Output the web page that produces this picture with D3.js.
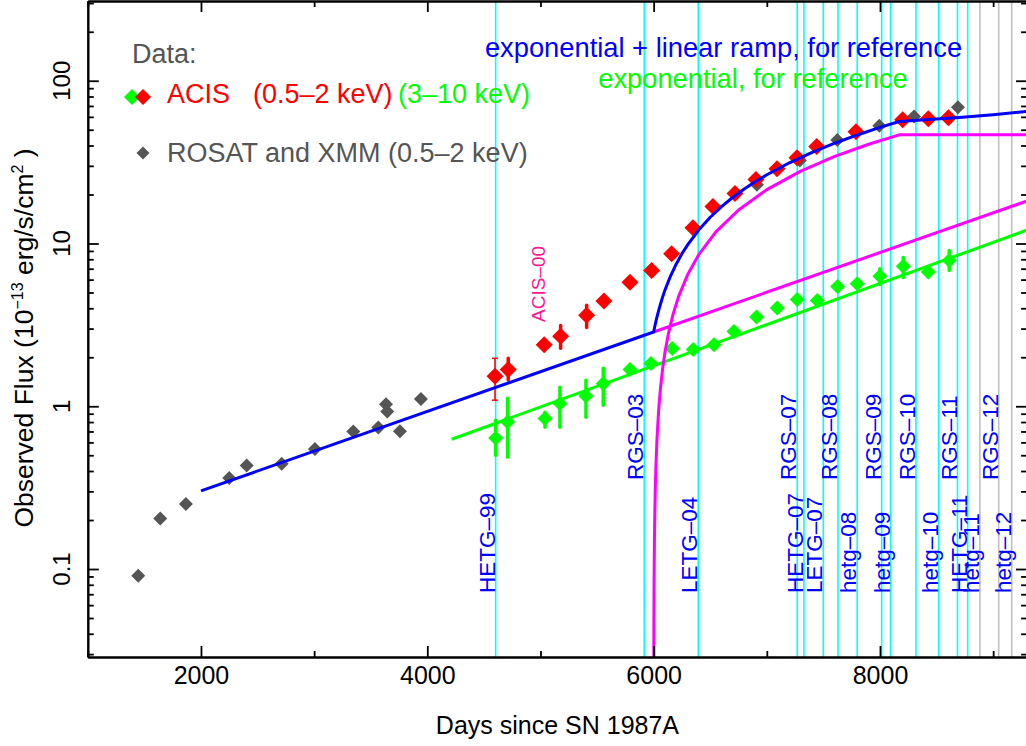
<!DOCTYPE html>
<html><head><meta charset="utf-8">
<script src="https://cdn.jsdelivr.net/npm/d3@7"></script>
<style>
body{margin:0;background:#fff}
svg{display:block}
text{font-family:"Liberation Sans",Arial,Helvetica,sans-serif}
</style>
</head><body>
<svg id="chart" width="1026" height="746"></svg>
<script>
// ---------------- data ----------------
const xTickLabels = [2000, 4000, 6000, 8000];
const xMinorTicks = [1000, 3000, 5000, 7000, 9000];
const yTickLabels = [0.1, 1, 10, 100];

// ROSAT and XMM (0.5-2 keV): [day, flux]
const rosatXmm = [[1446,0.091],[1640,0.204],[1867,0.251],[2250,0.363],[2404,0.433],[2713,0.443],
  [3007,0.547],[3346,0.700],[3567,0.740],[3635,1.03],[3646,0.927],[3758,0.703],[3944,1.11],
  [6913,23.0],[7292,32.3],[7623,43.3],[7994,52.9],[8301,60.2],[8689,68.8]];

// ACIS 0.5-2 keV: [day, flux, errLow, errHigh]
const acisSoft = [[4598,1.53,1.09,1.97],[4715,1.68,1.45,1.97],[5033,2.39],[5178,2.69,2.27,3.14],
  [5408,3.62,3.05,4.17],[5561,4.43],[5791,5.79],[5982,6.83],[6159,8.65],[6347,12.5],[6524,16.9],
  [6719,20.3],[6904,24.7],[7090,28.8],[7267,33.7],[7441,39.4],[7788,48.6],[8200,57.6],[8427,58.5],[8605,59.3]];

// ACIS 3-10 keV: [day, flux, errLow, errHigh]
const acisHard = [[4604,0.639,0.50,0.82],[4710,0.801,0.486,1.12],[5040,0.840,0.743,0.918],
  [5172,1.039,0.743,1.31],[5402,1.157,0.857,1.445],[5555,1.378,1.014,1.71],[5791,1.68],[5976,1.83],
  [6165,2.26],[6350,2.23],[6533,2.39],[6710,2.88],[6910,3.53],[7092,4.01],[7269,4.53],[7446,4.47],
  [7626,5.45],[7799,5.66],[7999,6.30,5.6,7.0],[8206,7.26,6.19,8.2],[8427,6.67,6.2,7.2],[8612,7.87,6.83,9.06]];

// reference curves: [day, flux]
const blueModel = [[2000,0.302],[6000,2.86],[6010,3.09],[6025,3.44],[6050,4.01],[6075,4.59],[6100,5.17],
  [6150,6.33],[6200,7.49],[6250,8.65],[6300,9.81],[6400,12.15],[6500,14.5],[6600,16.87],[6700,19.24],
  [6800,21.63],[6900,24.03],[7000,26.45],[7200,31.33],[7400,36.29],[7600,41.32],[7800,46.44],
  [8000,51.66],[8170,56.2],[8400,57.5],[8700,59.5],[9000,61.9],[9300,64.8]];
const magentaExp = [[6000,2.86],[9300,18.27]];
const magentaRamp = [[6000.3,0.0064],[6001,0.0214],[6002,0.0429],[6004,0.0857],[6007,0.15],[6010,0.214],
  [6015,0.321],[6020,0.429],[6030,0.643],[6045,0.964],[6060,1.286],[6080,1.714],[6100,2.143],[6130,2.786],
  [6170,3.643],[6220,4.715],[6300,6.429],[6400,8.572],[6550,11.79],[6750,16.07],[7000,21.43],[7300,27.86],
  [7600,34.29],[7900,40.72],[8170,46.5],[9300,46.5]];
const greenModel = [[4215,0.627],[9300,12.1]];

// grating observations
const obsDays   = [4604, 5917, 6394, 7269, 7328, 7499, 7629, 7799, 8015, 8094, 8318, 8519, 8685, 8775, 8883, 9049, 9164];
const obsLabels = ["HETG–99","RGS–03","LETG–04","RGS–07","HETG–07","LETG–07","RGS–08","hetg–08","RGS–09",
                   "hetg–09","RGS–10","hetg–10","RGS–11","HETG–11","hetg–11","RGS–12","hetg–12"];
const obsUpperRow = [false,true,false,true,false,false,true,false,true,false,true,false,true,false,false,true,false];
const obsPlanned  = [false,false,false,false,false,false,false,false,false,false,false,false,false,false,true,true,true];

// ---------------- chart ----------------
const svg = d3.select("#chart");
const L = 87.8, R = 1027.1, T = 1, B = 657;
const x = d3.scaleLinear().domain([1000, 9300]).range([L, R]);
const y = d3.scaleLog().domain([0.0288, 309]).range([B, T]);

svg.append("defs").append("clipPath").attr("id","clip")
  .append("rect").attr("x",L).attr("y",T).attr("width",R-L).attr("height",B-T);

const plot = svg.append("g").attr("clip-path","url(#clip)");

// legend / annotation text
const leg = svg.append("g");
leg.append("text").attr("x",132).attr("y",63).attr("font-size",27).attr("fill","#555").text("Data:");
leg.append("text").attr("x",167).attr("y",103).attr("font-size",27).attr("fill","#ff0000").text("ACIS");
leg.append("text").attr("x",253).attr("y",103).attr("font-size",27).attr("fill","#ff0000").text("(0.5–2 keV)");
leg.append("text").attr("x",398).attr("y",103).attr("font-size",27).attr("fill","#00ff00").text("(3–10 keV)");
leg.append("text").attr("x",167).attr("y",162).attr("font-size",27).attr("fill","#555").text("ROSAT and XMM (0.5–2 keV)");
leg.append("text").attr("x",723.5).attr("y",57).attr("text-anchor","middle").attr("font-size",27.3).attr("fill","#0000ff").text("exponential + linear ramp, for reference");
leg.append("text").attr("x",753).attr("y",88).attr("text-anchor","middle").attr("font-size",27.3).attr("fill","#00ff00").text("exponential, for reference");

const diamond = h => `M0,${-h}L${h},0L0,${h}L${-h},0Z`;
leg.append("path").attr("d",diamond(8)).attr("transform","translate(132,97)").attr("fill","#00ff00");
leg.append("path").attr("d",diamond(8)).attr("transform","translate(143,97)").attr("fill","#ff0000");
leg.append("path").attr("d",diamond(6.5)).attr("transform","translate(143,153)").attr("fill","#555");

// vertical observation lines
plot.selectAll("line.obs").data(obsDays).enter().append("line")
  .attr("x1",d=>x(d)).attr("x2",d=>x(d)).attr("y1",T).attr("y2",B)
  .attr("stroke",(d,i)=>obsPlanned[i]?"#c0c0c0":"#00ffff").attr("stroke-width",1.6);

// error bars
function errBars(data, color, thinFirst){
  const withErr = data.filter(d=>d.length>2);
  plot.selectAll(null).data(withErr).enter().append("line")
    .attr("x1",d=>x(d[0])).attr("x2",d=>x(d[0]))
    .attr("y1",d=>y(d[2])).attr("y2",d=>y(d[3]))
    .attr("stroke",color).attr("stroke-linecap",(d,i)=>thinFirst&&i===0?"butt":"round")
    .attr("stroke-width",(d,i)=>thinFirst&&i===0?1.5:3.5);
  if(thinFirst){
    const d0 = withErr[0];
    [d0[2],d0[3]].forEach(v=>{
      plot.append("line").attr("x1",x(d0[0])-3).attr("x2",x(d0[0])+3)
        .attr("y1",y(v)).attr("y2",y(v)).attr("stroke",color).attr("stroke-width",1.5);
    });
  }
}
errBars(acisSoft,"#ff0000",true);
errBars(acisHard,"#00ff00",false);

function points(data,color,h){
  plot.selectAll(null).data(data).enter().append("path")
    .attr("d",diamond(h))
    .attr("transform",d=>`translate(${x(d[0])},${y(d[1])})`)
    .attr("fill",color);
}
points(rosatXmm,"#555",7);
points(acisHard,"#00ff00",7.5);
points(acisSoft,"#ff0000",8.5);

// model curves
const line = d3.line().x(d=>x(d[0])).y(d=>y(d[1]));
function curve(data,color){
  plot.append("path").datum(data).attr("d",line).attr("fill","none")
    .attr("stroke",color).attr("stroke-width",3).attr("stroke-linejoin","round");
}
curve(greenModel,"#00ff00");
curve(magentaExp,"#ff00ff");
curve(magentaRamp,"#ff00ff");
curve(blueModel,"#0000ff");

// observation labels
svg.selectAll("text.obs").data(obsDays).enter().append("text")
  .attr("transform",(d,i)=>`translate(${x(d)-1},${obsUpperRow[i]?480:593}) rotate(-90)`)
  .attr("font-size",22.5).attr("fill","#0000ff").text((d,i)=>obsLabels[i]);

svg.append("text").attr("transform","translate(545,322) rotate(-90)")
  .attr("font-size",19).attr("fill","#ff1493").text("ACIS–00");

// axes
const minorY = y.ticks().filter(v=>!yTickLabels.includes(v) && Math.abs(Math.log10(v)%1)>1e-6);
function styleAxis(g){
  g.select(".domain").attr("stroke","#000").attr("stroke-width",2);
  g.selectAll(".tick line").attr("stroke","#000").attr("stroke-width",1.8);
}
// bottom
svg.append("g").attr("transform",`translate(0,${B})`)
  .call(d3.axisBottom(x).tickValues(xTickLabels).tickSizeInner(-11).tickSizeOuter(0).tickPadding(9).tickFormat(d3.format("d")))
  .call(styleAxis)
  .call(g=>g.selectAll("text").attr("font-size",25).attr("fill","#000").attr("font-family","Liberation Sans, Arial, sans-serif"));
svg.append("g").attr("transform",`translate(0,${B})`)
  .call(d3.axisBottom(x).tickValues(xMinorTicks).tickSizeInner(-6).tickSizeOuter(0).tickFormat(""))
  .call(styleAxis);
// top
svg.append("g").attr("transform",`translate(0,${T})`)
  .call(d3.axisTop(x).tickValues(xTickLabels).tickSizeInner(-11).tickSizeOuter(0).tickFormat(""))
  .call(styleAxis);
svg.append("g").attr("transform",`translate(0,${T})`)
  .call(d3.axisTop(x).tickValues(xMinorTicks).tickSizeInner(-6).tickSizeOuter(0).tickFormat(""))
  .call(styleAxis);
// left
svg.append("g").attr("transform",`translate(${L},0)`)
  .call(d3.axisLeft(y).tickValues(yTickLabels).tickSizeInner(-11).tickSizeOuter(0).tickFormat(""))
  .call(styleAxis);
svg.append("g").attr("transform",`translate(${L},0)`)
  .call(d3.axisLeft(y).tickValues(minorY).tickSizeInner(-6).tickSizeOuter(0).tickFormat(""))
  .call(styleAxis);
// right
svg.append("g").attr("transform",`translate(${R},0)`)
  .call(d3.axisRight(y).tickValues(yTickLabels).tickSizeInner(-11).tickSizeOuter(0).tickFormat(""))
  .call(styleAxis);
svg.append("g").attr("transform",`translate(${R},0)`)
  .call(d3.axisRight(y).tickValues(minorY).tickSizeInner(-6).tickSizeOuter(0).tickFormat(""))
  .call(styleAxis);

// y tick labels (rotated)
svg.selectAll("text.ylab").data(yTickLabels).enter().append("text")
  .attr("transform",d=>`translate(70,${y(d)}) rotate(-90)`)
  .attr("text-anchor","middle").attr("font-size",24).attr("fill","#000")
  .text(d=>d3.format("~g")(d));

// axis titles
svg.append("text").attr("x",(L+R)/2).attr("y",734).attr("text-anchor","middle")
  .attr("font-size",25).attr("fill","#000").text("Days since SN 1987A");
const yt = svg.append("text").attr("transform",`translate(33,338) rotate(-90)`)
  .attr("text-anchor","middle").attr("font-size",26.5).attr("fill","#000");
yt.append("tspan").text("Observed Flux (10");
yt.append("tspan").attr("font-size",16).attr("dy",-10).text("−13");
yt.append("tspan").attr("dy",10).text(" erg/s/cm");
yt.append("tspan").attr("font-size",16).attr("dy",-10).text("2");
yt.append("tspan").attr("dy",10).text(" )");
</script>
</body></html>
